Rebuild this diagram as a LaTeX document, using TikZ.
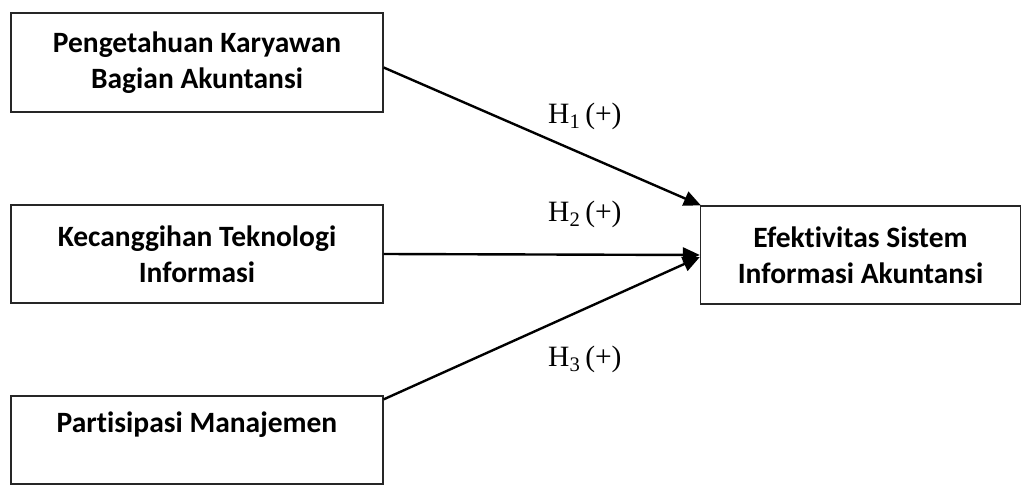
\documentclass[tikz,border=0pt]{standalone}
\usepackage{fontspec}
\setmainfont{Liberation Serif}
\newfontfamily\boxfont[Ligatures=NoCommon]{Carlito}
\usetikzlibrary{arrows.meta}
\begin{document}
\begin{tikzpicture}[x=1pt,y=-1pt,
  varbox/.style={draw=black!85,line width=1.3pt,align=center,inner sep=0pt,
    font=\boxfont\bfseries\fontsize{29.5}{36}\selectfont},
  link/.style={line width=2.4pt,-{Triangle[length=17pt,width=15pt]}},
  hyp/.style={anchor=base west,inner sep=0pt,font=\fontsize{29.5}{34}\selectfont}]
\useasboundingbox (0,0) rectangle (1022,487);
\node[varbox,minimum width=372pt,minimum height=99pt] (b1) at (197,62.5) {Pengetahuan Karyawan\\Bagian Akuntansi};
\node[varbox,minimum width=372pt,minimum height=98pt] (b2) at (197,254) {Kecanggihan Teknologi\\Informasi};
\node[varbox,minimum width=372pt,minimum height=88pt] (b3) at (197,440) {Partisipasi Manajemen\\\mbox{}};
\node[varbox,minimum width=320pt,minimum height=98pt] (b4) at (860.5,255) {Efektivitas Sistem\\Informasi Akuntansi};
\draw[link] ([yshift=-5pt]b1.east) -- ([xshift=1pt]b4.north west);
\draw[link] (b2.east) -- (b4.west);
\draw[link] ([yshift=-4pt]b3.north east) -- ([yshift=-2pt]b4.west);
\node[hyp] (h1) at (548,123) {H\textsubscript{1}\,(+)};
\node[hyp] (h2) at (548,221) {H\textsubscript{2}\,(+)};
\node[hyp] (h3) at (548,366) {H\textsubscript{3}\,(+)};
\end{tikzpicture}
\end{document}
